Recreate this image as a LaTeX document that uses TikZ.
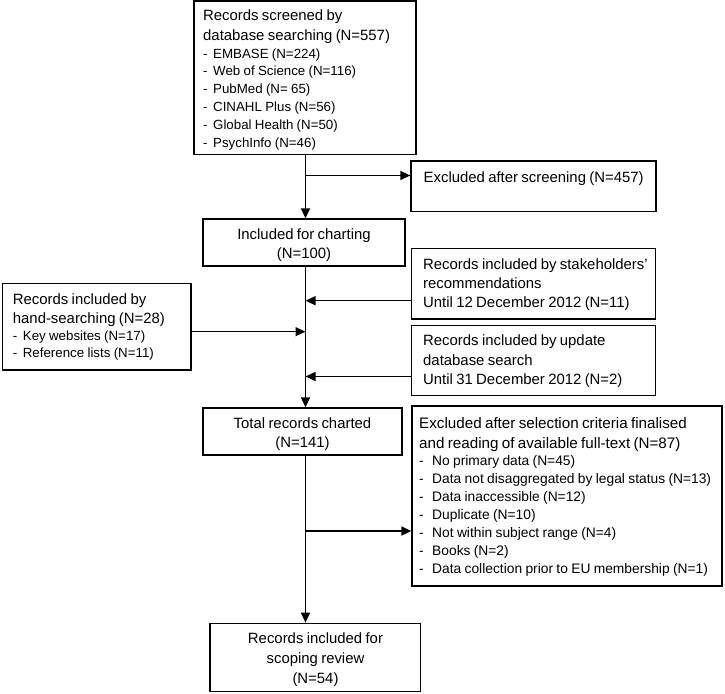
\documentclass[tikz,border=0pt]{standalone}
\usepackage{fontspec}
\setmainfont{Liberation Sans}
\usetikzlibrary{arrows.meta}
\newcommand\hdfont{\fontsize{14.9}{19.3}\selectfont}
\newcommand\lifont{\fontsize{13.3}{17.8}\selectfont}
\newcommand\dashitem[1]{\makebox[10pt][l]{-}#1\par}
\newcommand\wideitem[1]{\makebox[13pt][l]{-}#1\par}
\begin{document}
\begin{tikzpicture}[x=1pt,y=-1pt,
  box/.style={draw, line width=1.3pt, inner sep=0pt},
  txt/.style={inner sep=0pt, text width=320pt, align=left, anchor=base west},
  ctxt/.style={inner sep=0pt, text width=220pt, align=center, anchor=base},
  arr/.style={line width=1.4pt, -{Triangle[length=10pt,width=9pt]}}]
\useasboundingbox (0,0) rectangle (725,693);
% boxes
\node[box, minimum width=222pt, minimum height=153.5pt] (top) at (305,77.75) {};
\node[box, minimum width=245pt, minimum height=50.5pt] (excl) at (533.5,186.25) {};
\node[box, minimum width=202pt, minimum height=47pt] (incl) at (304,242.5) {};
\node[box, minimum width=244.2pt, minimum height=70.7pt] (stake) at (533.6,283.65) {};
\node[box, minimum width=244.2pt, minimum height=70pt] (upd) at (533.6,360.7) {};
\node[box, minimum width=188.3pt, minimum height=86.7pt] (hand) at (96.85,326.65) {};
\node[box, minimum width=199pt, minimum height=47pt] (total) at (302.5,431.5) {};
\node[box, minimum width=310pt, minimum height=180pt] (sel) at (567,496) {};
\node[box, minimum width=210.7pt, minimum height=68.4pt] (final) at (315.35,657.5) {};
% texts
\node[txt] (topt) at (203,21) {\hdfont Records screened by\\database searching (N=557)\par
  \lifont\dashitem{EMBASE (N=224)}\dashitem{Web of Science (N=116)}\dashitem{PubMed (N= 65)}%
  \dashitem{CINAHL Plus (N=56)}\dashitem{Global Health (N=50)}\dashitem{PsychInfo (N=46)}};
\node[txt] (exclt) at (423.5,182.5) {\hdfont Excluded after screening (N=457)\par};
\node[ctxt] (inclt) at (304,239) {\hdfont Included for charting\\(N=100)\par};
\node[txt] (staket) at (423,269) {\hdfont Records included by stakeholders'\\recommendations\\Until 12 December 2012 (N=11)\par};
\node[txt] (updt) at (423,345.7) {\hdfont Records included by update\\database search\\Until 31 December 2012 (N=2)\par};
\node[txt] (handt) at (12.7,304.5) {\hdfont Records included by\\hand-searching (N=28)\par
  \fontsize{13.3}{17}\selectfont\dashitem{Key websites (N=17)}\dashitem{Reference lists (N=11)}};
\node[ctxt] (totalt) at (302.5,428.5) {\hdfont Total records charted\\(N=141)\par};
\node[txt] (selt) at (419,428) {\fontsize{15.2}{20}\selectfont Excluded after selection criteria finalised\\and reading of available full-text (N=87)\par
  \fontsize{13.8}{17.9}\selectfont\wideitem{No primary data (N=45)}\wideitem{Data not disaggregated by legal status (N=13)}%
  \wideitem{Data inaccessible (N=12)}\wideitem{Duplicate (N=10)}\wideitem{Not within subject range (N=4)}%
  \wideitem{Books (N=2)}\wideitem{Data collection prior to EU membership (N=1)}};
\node[ctxt] (finalt) at (315.5,643.5) {\fontsize{14.9}{20}\selectfont Records included for\\scoping review\\(N=54)\par};
% connectors
\coordinate (mx) at (305.5,0);
\coordinate (b1) at (305.5,175.5);
\coordinate (b2) at (305.5,531);
\coordinate (j1) at (305.5,300.7);
\coordinate (j2) at (305.5,376.5);
\coordinate (j3) at (305.5,331.7);
\draw[arr] (top.south -| mx) -- (incl.north -| mx);
\draw[arr] (b1) -- (b1 -| excl.west);
\draw[arr] (incl.south -| mx) -- (total.north -| mx);
\draw[arr] (j1 -| stake.west) -- (j1);
\draw[arr] (j2 -| upd.west) -- (j2);
\draw[arr] (j3 -| hand.east) -- (j3);
\draw[arr] (total.south -| mx) -- (final.north -| mx);
\draw[arr] (b2) -- (b2 -| sel.west);
\end{tikzpicture}
\end{document}
